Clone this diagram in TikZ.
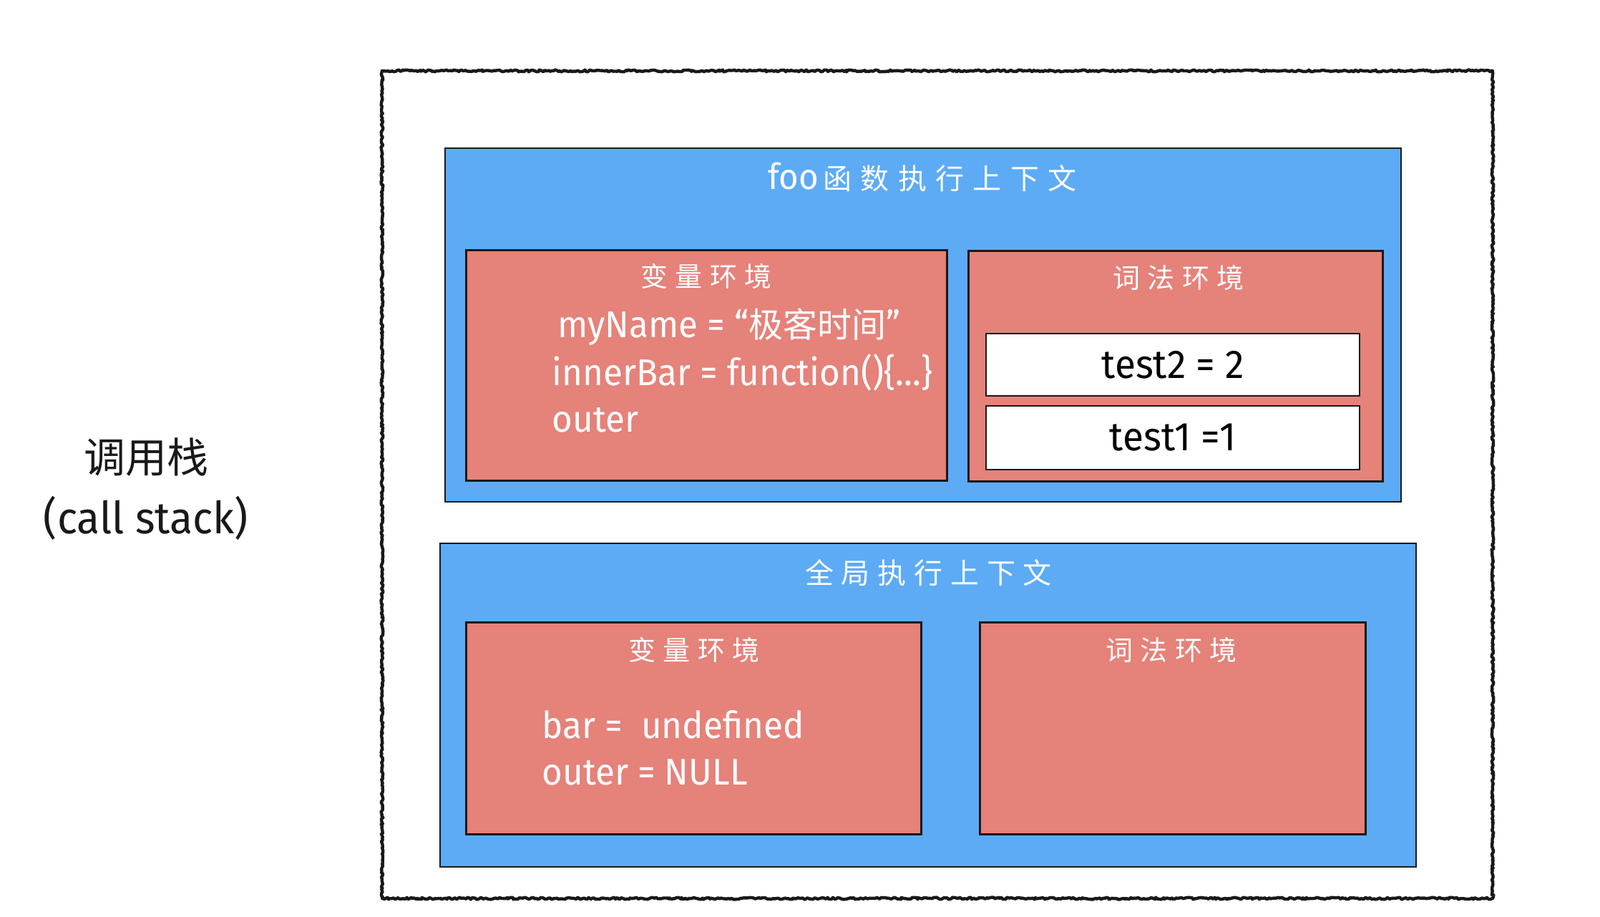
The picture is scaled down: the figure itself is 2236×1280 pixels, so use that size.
\documentclass[tikz,border=0pt]{standalone}
\usepackage{fontspec}
\setmainfont{Fira Sans}[FakeStretch=0.95]
\newfontfamily\cjk{Noto Sans CJK SC}
\newfontfamily\cjksp{Noto Sans CJK SC}[LetterSpace=27]
\newfontfamily\cjkwide{Noto Sans CJK SC}[LetterSpace=31]
\usetikzlibrary{decorations.pathmorphing}
\definecolor{bluebg}{RGB}{93,171,245}
\definecolor{redbg}{RGB}{229,130,122}
\definecolor{ink}{RGB}{25,25,25}
\tikzset{
  bluebox/.style={draw=ink, line width=1.2pt, fill=bluebg, inner sep=0pt},
  redbox/.style={draw=ink, line width=1.6pt, fill=redbg, inner sep=0pt},
  whitebox/.style={draw=ink, line width=0.9pt, fill=white, inner sep=0pt},
  ctitle/.style={text=white, font=\fontsize{20}{24}\selectfont, inner sep=0pt},
  csub/.style={text=white, font=\cjksp\fontsize{19}{23}\selectfont, inner sep=0pt},
  codeline/.style={text=white, font=\fontsize{26}{30}\selectfont, anchor=base west, inner sep=0pt},
  testline/.style={text=black, font=\fontsize{28}{32}\selectfont, inner sep=0pt},
}
\begin{document}
\begin{tikzpicture}[x=0.5pt,y=-0.5pt]
\useasboundingbox[fill=white] (0,0) rectangle (2236,1280);
% outer call stack frame
\node[inner sep=0pt, minimum width=775.6pt, minimum height=577.6pt] (frame) at (1310,677) {};
\draw[ink, line width=2.2pt, line join=round, line cap=round, decorate,
      decoration={random steps, segment length=1.2pt, amplitude=0.7pt, pre=lineto, pre length=1pt, post=lineto, post length=2pt}]
  (frame.north west) -- (frame.north east) -- (frame.south east) -- (frame.south west) -- cycle;
% labels on the left
\node[font=\cjk\fontsize{29}{34}\selectfont, text=ink, inner sep=0pt] (cs) at (204,639) {调用栈};
\node[font=\fontsize{31}{36}\selectfont, text=ink, inner sep=0pt] (csen) at (204,724) {(call stack)};
% foo execution context
\node[bluebox, minimum width=668pt, minimum height=247pt] (foo) at (1290,454) {};
\node[ctitle] (footitle) at (1289,247) {{\fontsize{25}{28}\selectfont foo\hspace{3pt}}{\cjkwide 函数执行上下文}};
\node[redbox, minimum width=335.8pt, minimum height=161.2pt] (fooVE) at (987.5,510.5) {};
\node[csub] (fooVEt) at (987,386) {变量环境};
\node[codeline] (l1) at (779,471) {myName = “{\cjk\fontsize{24}{28}\selectfont 极客时间}”};
\node[codeline] (l2) at (771,538) {innerBar = function()\{...\}};
\node[codeline] (l3) at (771,603) {outer};
\node[redbox, minimum width=289.5pt, minimum height=161.2pt] (fooLE) at (1643,511.5) {};
\node[csub] (fooLEt) at (1647,388) {词法环境};
\node[whitebox, minimum width=261.2pt, minimum height=43.8pt] (t2) at (1639,509.5) {};
\node[testline] at (t2) {test2 = 2};
\node[whitebox, minimum width=261.2pt, minimum height=44.3pt] (t1) at (1639,611.4) {};
\node[testline] at (t1) {test1 =1};
% global execution context
\node[bluebox, minimum width=682pt, minimum height=225.9pt] (glob) at (1297,985) {};
\node[ctitle] (globtitle) at (1297.5,800) {\cjksp 全局执行上下文};
\node[redbox, minimum width=318pt, minimum height=147.8pt] (gVE) at (969.6,1017.4) {};
\node[csub] (gVEt) at (970,908.4) {变量环境};
\node[codeline] (g1) at (757,1031) {bar =\ \ undefined};
\node[codeline] (g2) at (757,1096) {outer = NULL};
\node[redbox, minimum width=269.6pt, minimum height=147.8pt] (gLE) at (1638.8,1017.4) {};
\node[csub] (gLEt) at (1637,908.4) {词法环境};
\end{tikzpicture}
\end{document}
